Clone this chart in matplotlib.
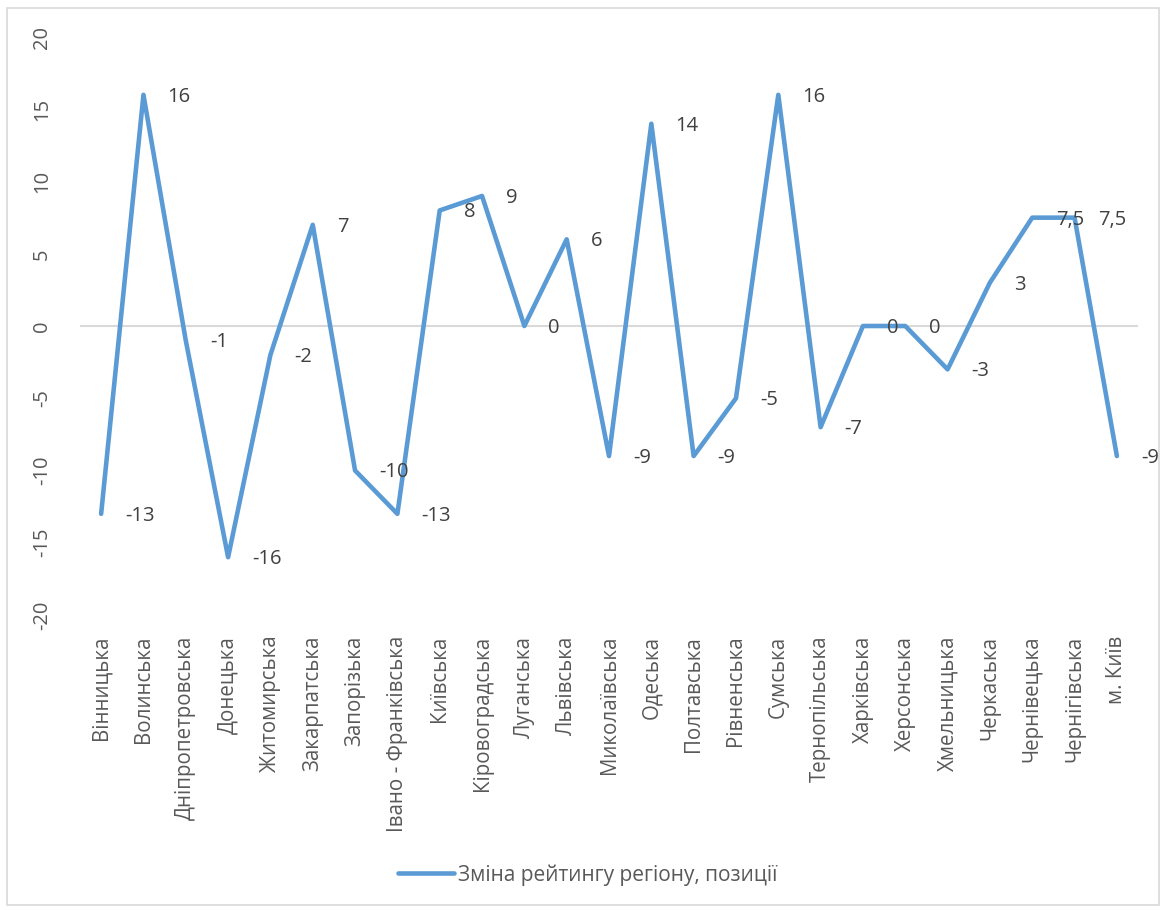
import matplotlib
matplotlib.use("Agg")
import matplotlib.pyplot as plt
from matplotlib.patches import Rectangle

# --- data ---
regions = ["Вінницька", "Волинська", "Дніпропетровська", "Донецька", "Житомирська",
           "Закарпатська", "Запорізька", "Івано - Франківська", "Київська", "Кіровоградська",
           "Луганська", "Львівська", "Миколаївська", "Одеська", "Полтавська",
           "Рівненська", "Сумська", "Тернопільська", "Харківська", "Херсонська",
           "Хмельницька", "Черкаська", "Чернівецька", "Чернігівська", "м. Київ"]
change = [-13, 16, -1, -16, -2, 7, -10, -13, 8, 9, 0, 6, -9, 14, -9,
          -5, 16, -7, 0, 0, -3, 3, 7.5, 7.5, -9]
y_ticks = [-20, -15, -10, -5, 0, 5, 10, 15, 20]
series_name = "Зміна рейтингу регіону, позиції"

plt.rcParams['font.family'] = ['Open Sans', 'DejaVu Sans']
text_col = '#595959'
line_col = '#5B9BD5'

fig = plt.figure(figsize=(11.64, 9.10), dpi=100)
fig.patches.append(Rectangle((0.006, 0.005), 0.99, 0.986, transform=fig.transFigure,
                             fill=False, edgecolor='#D9D9D9', linewidth=1.2))

ax = fig.add_axes([0.0687, 0.3242, 0.909, 0.6351])
x = list(range(len(regions)))
line, = ax.plot(x, change, color=line_col, linewidth=3.3, solid_joinstyle='round',
                solid_capstyle='round', label=series_name)

# value labels, Excel style (right of the point, decimal comma)
for xi, v in zip(x, change):
    txt = f"{v:g}".replace('.', ',')
    ax.annotate(txt, (xi, v), xytext=(24, -2), textcoords='offset pixels',
                ha='left', va='center', fontsize=14.5, color='#404040')

ax.axhline(0, color='#D9D9D9', linewidth=1.5, zorder=0)
ax.set_xlim(-0.5, len(regions) - 0.5)
ax.set_ylim(-20, 20)
ax.set_yticks(y_ticks)
ax.set_yticklabels([str(t) for t in y_ticks], rotation=90, va='center',
                   fontsize=14.5, color=text_col)
ax.set_xticks(x)
ax.set_xticklabels(regions, rotation=90, fontsize=14.8, color=text_col)
ax.tick_params(axis='both', length=0)
ax.tick_params(axis='x', pad=15)
ax.tick_params(axis='y', pad=20)
for s in ax.spines.values():
    s.set_visible(False)

fig.legend(handles=[line], labels=[series_name], loc='center', bbox_to_anchor=(0.505, 0.0385),
           frameon=False, fontsize=15, labelcolor=text_col, handlelength=2.7, handletextpad=0.2)

fig.savefig('out.png', dpi=100)
